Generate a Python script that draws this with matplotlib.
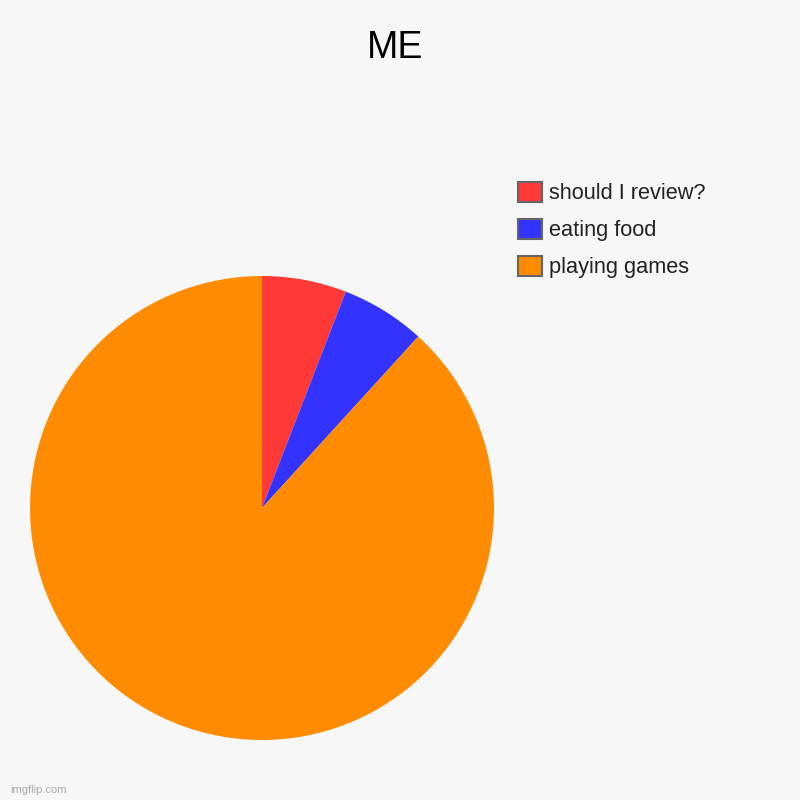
import matplotlib.pyplot as plt
from matplotlib.patches import Patch

labels = ["should I review?", "eating food", "playing games"]
values = [1, 1, 15]
colors = ["#ff3838", "#3333ff", "#ff8c00"]

plt.rcParams["font.family"] = ["Liberation Sans", "DejaVu Sans"]

fig = plt.figure(figsize=(8, 8), dpi=100)
fig.patch.set_facecolor("#f7f7f7")

# pie: center (262, 508) px, radius 232 px
ax = fig.add_axes([30 / 800, 60 / 800, 464 / 800, 464 / 800])
ax.set_facecolor("#f7f7f7")
ax.pie(values, colors=colors, startangle=90, counterclock=False,
       radius=1.0, wedgeprops=dict(linewidth=0))
ax.set_xlim(-1, 1)
ax.set_ylim(-1, 1)
ax.set_aspect("equal")
ax.axis("off")

fig.text(395 / 800, 1 - 48 / 800, "ME", ha="center", va="center",
         fontsize=27, color="#000000")

handles = [Patch(facecolor=c, edgecolor="#666666", linewidth=1.5) for c in colors]
fig.legend(handles, labels, loc="upper left",
           bbox_to_anchor=(518 / 800, 1 - 182 / 800),
           frameon=False, fontsize=15.7, handlelength=1.1, handleheight=1.0,
           handletextpad=0.33, labelspacing=0.68, borderpad=0, borderaxespad=0,
           labelcolor="#222222")

fig.text(10 / 800, 1 - 790 / 800, "imgflip.com", ha="left", va="center",
         fontsize=8, color="#aaaaaa")

fig.savefig("out.png", dpi=100, facecolor=fig.get_facecolor())
